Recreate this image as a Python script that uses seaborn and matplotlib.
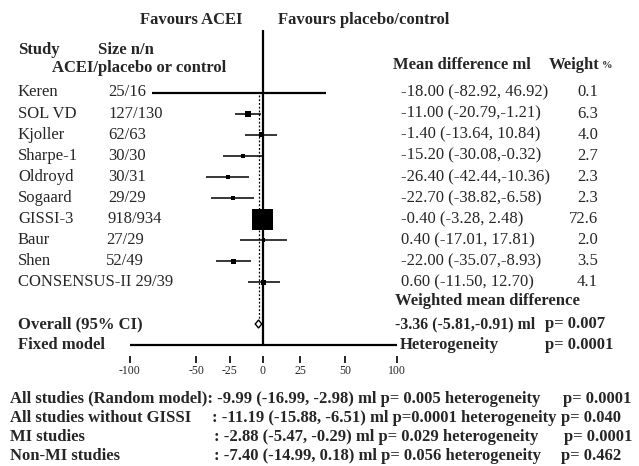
import matplotlib
matplotlib.use("Agg")
import matplotlib.pyplot as plt
import seaborn as sns
import pandas as pd
import numpy as np

studies = ["Keren", "SOL VD", "Kjoller", "Sharpe-1", "Oldroyd", "Sogaard", "GISSI-3", "Baur", "Shen", "CONSENSUS-II"]
sizes = ["25/16", "127/130", "62/63", "30/30", "30/31", "29/29", "918/934", "27/29", "52/49", "29/39"]
means = [-18.00, -11.00, -1.40, -15.20, -26.40, -22.70, -0.40, 0.40, -22.00, 0.60]
lows = [-82.92, -20.79, -13.64, -30.08, -42.44, -38.82, -3.28, -17.01, -35.07, -11.50]
highs = [46.92, -1.21, 10.84, -0.32, -10.36, -6.58, 2.48, 17.81, -8.93, 12.70]
weights = [0.1, 6.3, 4.0, 2.7, 2.3, 2.3, 72.6, 2.0, 3.5, 4.1]

overall_mean = -3.36
overall_lo = -5.81
overall_hi = -0.91

tick_values = [-100, -50, -25, 0, 27.7, 61.4, 100]
tick_labels = ["-100", "-50", "-25", "0", "25", "50", "100"]

summary_labels = ["All studies (Random model)", "All studies without GISSI", "MI studies", "Non-MI studies"]
summary_texts = [": -9.99 (-16.99, -2.98) ml p= 0.005 heterogeneity",
                 ": -11.19 (-15.88, -6.51) ml p=0.0001 heterogeneity",
                 ": -2.88 (-5.47, -0.29) ml p= 0.029 heterogeneity",
                 ": -7.40 (-14.99, 0.18) ml p= 0.056 heterogeneity"]
summary_p = ["p= 0.0001", "p= 0.040", "p= 0.0001", "p= 0.462"]

sns.set_theme(style="white")
plt.rcParams['font.family'] = ['Liberation Serif', 'DejaVu Serif']

W, H = 639, 466
fig = plt.figure(figsize=(W / 100, H / 100), dpi=100)
fig.patch.set_facecolor("white")
renderer = fig.canvas.get_renderer()

ZERO_PX = 263.0
SCALE = 1.335
ax = fig.add_axes([0, 0, 1, 1])
ax.set_xlim((0 - ZERO_PX) / SCALE, (W - ZERO_PX) / SCALE)
ax.set_ylim(H, 0)
ax.axis("off")
ax.patch.set_alpha(0)

tax = fig.add_axes([0, 0, 1, 1])
tax.set_xlim(0, W)
tax.set_ylim(H, 0)
tax.axis("off")
tax.patch.set_alpha(0)


def width_px(t):
    return t.get_window_extent(renderer=renderer).width


def put(x, y, s, size=12, bold=False, ha="left", max_w=None):
    t = tax.text(x, y, s, ha=ha, va="center", fontsize=size,
                 fontweight="bold" if bold else "normal")
    if max_w is not None:
        w = width_px(t)
        if w > max_w:
            t.set_fontsize(size * max_w / w)
    return t


row_y = [92.5 + 21.1 * i for i in range(len(studies))]
df = pd.DataFrame({"study": studies, "mean": means, "lo": lows, "hi": highs,
                   "w": weights, "y": row_y})

y_overall = 324
y_base = 345

# CI lines
for i, r in df.iterrows():
    lw = 1.6 if i == 0 else 1.1
    ax.hlines(r["y"], r["lo"], r["hi"], color="black", lw=lw, zorder=3)

# squares (area proportional to weight)
sns.scatterplot(data=df, x="mean", y="y", size="w", sizes=(0, 228), size_norm=(0, 72.6),
                marker="s", color="black", edgecolor="black", linewidth=0,
                legend=False, ax=ax, zorder=4)

# zero line
ax.vlines(0, 30, y_base, color="black", lw=1.6, zorder=5)
# dotted overall line
ax.vlines(overall_mean, row_y[0] + 2, y_overall - 4, color="black", lw=0.9,
          linestyles=(0, (1.5, 1.5)), zorder=2)
# diamond
dx = [overall_lo, overall_mean, overall_hi, overall_mean, overall_lo]
dy = [y_overall, y_overall - 4, y_overall, y_overall + 4, y_overall]
ax.fill(dx, dy, facecolor="white", edgecolor="black", lw=1.0, zorder=6)

# baseline axis
ax.hlines(y_base, -100, 100, color="black", lw=1.6, zorder=5)
for tv, tl in zip(tick_values, tick_labels):
    ax.vlines(tv, 356, 363, color="black", lw=1.2)
    ax.text(tv, 371, tl, ha="center", va="center", fontsize=8.5)

put(191, 20, "Favours ACEI", bold=True, ha="center")
put(278, 20, "Favours placebo/control", bold=True)
put(18, 50, "Study", bold=True)
put(98, 50, "Size n/n", bold=True)
put(52, 68, "ACEI/placebo or control", bold=True)
put(393, 65, "Mean difference ml", bold=True, max_w=138)
tw = put(549, 65, "Weight", bold=True)
put(549 + width_px(tw) + 2, 66, "%", size=7.5, bold=True)

for i, r in df.iterrows():
    y = r["y"]
    if studies[i].startswith("CONSENSUS"):
        put(18, y, f"{studies[i]} {sizes[i]}")
    else:
        put(18, y, studies[i])
        sx = 106 if studies[i] in ("Baur", "Shen") else 108
        put(sx, y, sizes[i])
    sep = " " if r["hi"] > 0 else ""
    txt = f"{r['mean']:.2f} ({r['lo']:.2f},{sep}{r['hi']:.2f})"
    put(401, y, txt)
    put(598, y, f"{r['w']:.1f}", ha="right")

put(395, 301, "Weighted mean difference", bold=True)
put(18, y_overall, "Overall (95% CI)", bold=True)
put(395, y_overall, f"{overall_mean:.2f} ({overall_lo:.2f},{overall_hi:.2f}) ml",
    bold=True, max_w=140)
put(545, y_overall, "p= 0.007", bold=True)
put(18, y_base, "Fixed model", bold=True)
put(400, y_base, "Heterogeneity", bold=True)
put(545, y_base, "p= 0.0001", bold=True)

# summary block
sum_y = [399, 418, 437, 456]
t0 = put(10, sum_y[0], summary_labels[0] + summary_texts[0], bold=True)
lab_w = width_px(tax.text(0, 0, summary_labels[0], fontsize=12, fontweight="bold", alpha=0))
colon_x = [None, 10 + lab_w + 5, 10 + lab_w + 7, 10 + lab_w + 7]
end_x = [10 + width_px(t0), None, None, None]
for i in range(1, 4):
    put(10, sum_y[i], summary_labels[i], bold=True)
    t = put(colon_x[i], sum_y[i], summary_texts[i], bold=True)
    end_x[i] = colon_x[i] + width_px(t)

pw = width_px(tax.text(0, 0, summary_p[0], fontsize=12, fontweight="bold", alpha=0))
p1 = 631 - pw
p_x = [p1, max(end_x[1] + 4, p1 - 10), p1 + 1, p1 - 2]
for i in range(4):
    put(p_x[i], sum_y[i], summary_p[i], bold=True)

fig.savefig("out.png", dpi=100, facecolor="white")
